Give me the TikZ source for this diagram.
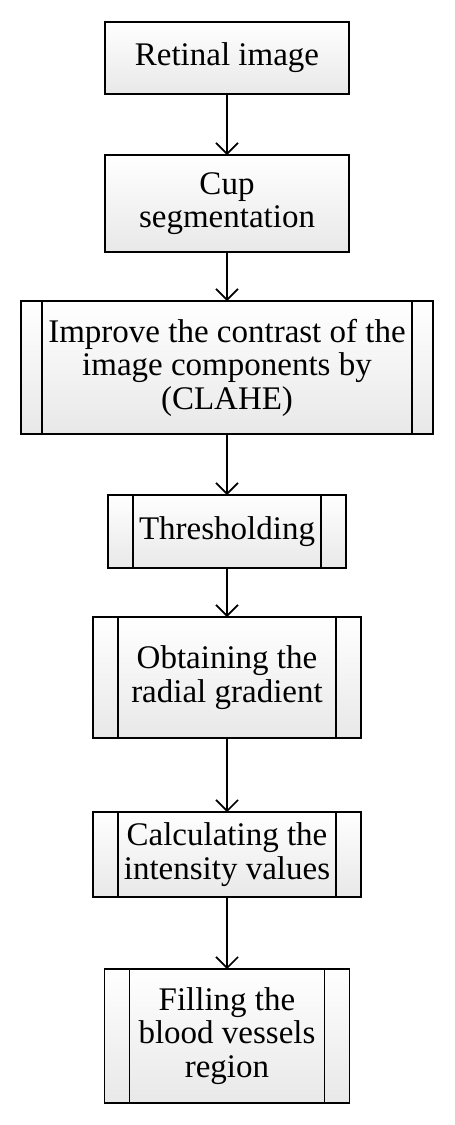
\documentclass[tikz,border=0pt]{standalone}
\usepackage{fontspec}
\setmainfont{Liberation Serif}
\usetikzlibrary{arrows.meta}
\begin{document}
\begin{tikzpicture}[x=1pt,y=1pt,
  box/.style={draw=black, line width=1.6pt, rectangle, inner sep=0pt, outer sep=0pt,
    top color=white, bottom color=black!9, align=center,
    font=\fontsize{33}{33.5}\selectfont},
  predef/.style={box, path picture={
    \draw[line width=1.6pt] ([xshift=#1]path picture bounding box.north west) -- ([xshift=#1]path picture bounding box.south west);
    \draw[line width=1.6pt] ([xshift=-#1]path picture bounding box.north east) -- ([xshift=-#1]path picture bounding box.south east);}},
  predef/.default=24pt,
  conn/.style={line width=1.6pt, -{Straight Barb[length=11pt,width=22pt,line width=1.6pt]}}
]
\useasboundingbox (0,0) rectangle (455,-1125);
\node[box, minimum width=244, minimum height=72] (n1) at (227,-58) {Retinal image};
\node[box, minimum width=244, minimum height=97] (n2) at (227,-203.5) {Cup\\segmentation};
\node[predef=21pt, minimum width=412, minimum height=133] (n3) at (227,-367.5) {Improve the contrast of the\\image components by\\(CLAHE)};
\node[predef=25pt, minimum width=238, minimum height=73] (n4) at (227,-531.5) {Thresholding};
\node[predef=25pt, minimum width=268, minimum height=121] (n5) at (227,-677.5) {Obtaining the\\radial gradient};
\node[predef=25pt, minimum width=268, minimum height=85] (n6) at (227,-854.5) {Calculating the\\intensity values};
\node[predef=25pt, minimum width=245, minimum height=134] (n7) at (227,-1036) {Filling the\\blood vessels\\region};
\draw[conn] (n1) -- (n2);
\draw[conn] (n2) -- (n3);
\draw[conn] (n3) -- (n4);
\draw[conn] (n4) -- (n5);
\draw[conn] (n5) -- (n6);
\draw[conn] (n6) -- (n7);
\end{tikzpicture}
\end{document}
